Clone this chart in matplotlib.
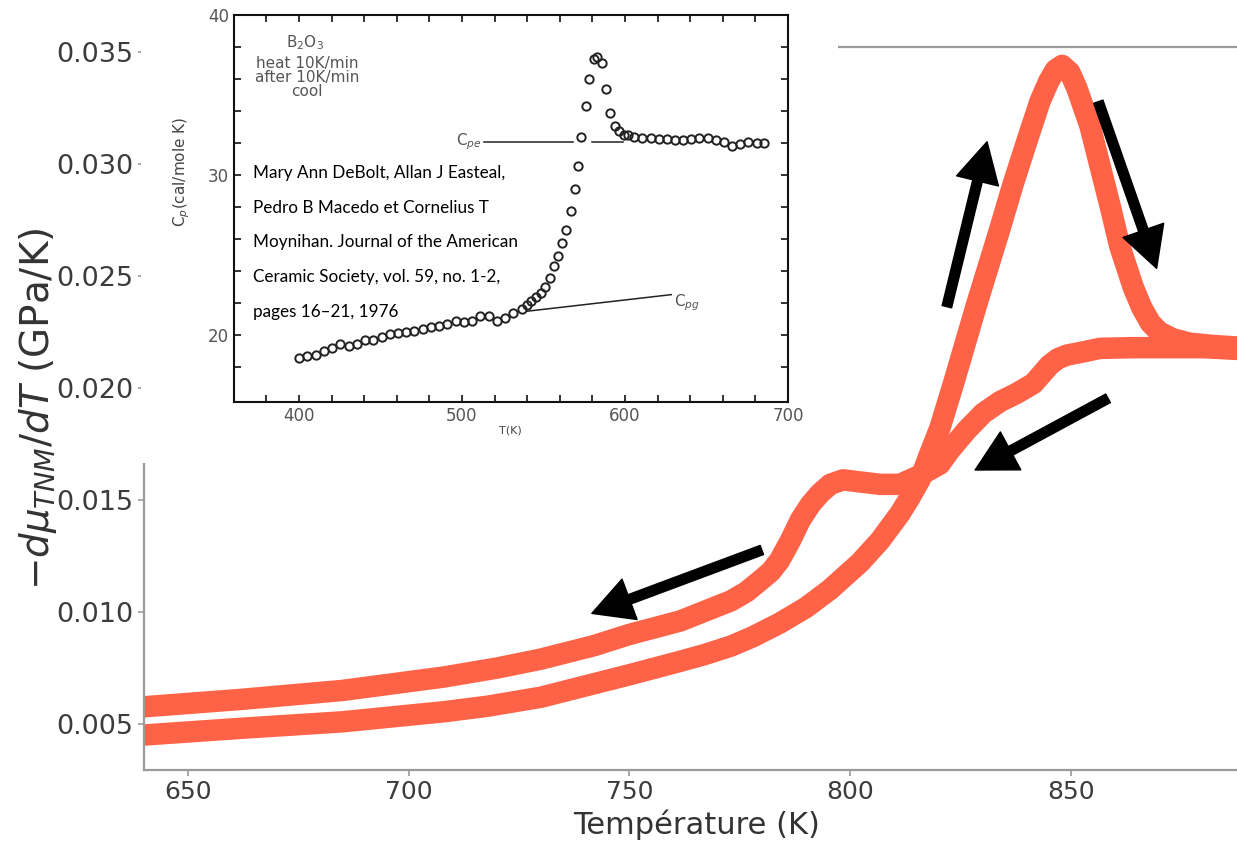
import matplotlib
matplotlib.use("Agg")
import matplotlib.pyplot as plt
from matplotlib.patches import Rectangle

# heating scan (the branch with the overshoot peak)
heat_T = [640, 662, 685, 708, 718, 730, 740, 750, 761.5, 767, 773, 778, 784, 790,
          795.4, 802.2, 806.8, 811.3, 813.5, 815.8, 818.1, 820.3, 823.4, 828.6, 833.9,
          836.9, 840, 843, 845, 846.5, 848, 849.7, 851.3, 854.3, 856.6, 858.9, 861.1,
          864.1, 866, 868, 870, 873, 876.9, 882, 890]
heat_v = [0.00451, 0.00481, 0.0051, 0.00555, 0.0058, 0.0062, 0.0067, 0.0072, 0.0078,
          0.0081, 0.00848, 0.0089, 0.0095, 0.0102, 0.0110, 0.0122, 0.0132, 0.0144,
          0.0151, 0.0159, 0.0171, 0.0182, 0.0202, 0.0237, 0.0271, 0.0291, 0.0310,
          0.0328, 0.0337, 0.0342, 0.0344, 0.0341, 0.0334, 0.0317, 0.0299, 0.0281,
          0.0263, 0.0245, 0.0236, 0.0229, 0.0225, 0.0222, 0.0220, 0.0219, 0.0218]

# cooling scan
cool_T = [640, 662, 685, 708, 720, 730, 742, 750, 761.5, 773, 776.5, 779.6, 782, 784,
          786.5, 788.7, 791, 793.2, 795.5, 798.4, 802.5, 806.8, 811.3, 815.8, 820.3,
          822.6, 826.4, 830.1, 833.9, 837.7, 841.5, 845.2, 847, 849.1, 852.5, 856.6,
          864, 872, 880, 890]
cool_v = [0.00577, 0.0061, 0.0065, 0.0071, 0.0075, 0.0079, 0.0085, 0.0090, 0.0096,
          0.0105, 0.0109, 0.0114, 0.0118, 0.0123, 0.0132, 0.0141, 0.0148, 0.0153,
          0.0157, 0.0159, 0.0158, 0.0157, 0.0157, 0.0161, 0.0166, 0.01723, 0.01812,
          0.01887, 0.01939, 0.01976, 0.0202, 0.02103, 0.0213, 0.02147, 0.0216,
          0.02177, 0.0218, 0.0218, 0.0218, 0.0217]

# inset: DeBolt et al. 1976, B2O3 Cp on heating
ref_T = [400.0, 405.2, 410.2, 415.2, 420.5, 425.5, 430.7, 435.7, 440.7, 445.7, 450.7,
         455.7, 460.7, 465.9, 470.9, 476.1, 480.9, 485.9, 491.1, 496.1, 501.1, 506.1,
         511.1, 516.4, 521.6, 526.6, 531.6, 536.6, 539.8, 542.5, 545.5, 548.4, 551.1,
         553.9, 556.6, 559.1, 561.6, 564.1, 566.6, 569.1, 571.1, 573.0, 576.4, 578.2,
         580.7, 583.0, 586.1, 588.4, 590.9, 593.9, 596.6, 599.3, 601.8, 605.7, 610.7,
         615.7, 620.7, 625.7, 630.7, 635.7, 640.7, 645.7, 650.7, 655.7, 660.7, 665.7,
         670.7, 675.7, 680.7, 685.2]
ref_cp = [18.54, 18.69, 18.75, 18.96, 19.17, 19.44, 19.27, 19.44, 19.65, 19.69, 19.83,
          20.04, 20.10, 20.15, 20.21, 20.35, 20.46, 20.56, 20.69, 20.83, 20.77, 20.83,
          21.15, 21.15, 20.83, 21.04, 21.35, 21.60, 21.88, 22.08, 22.35, 22.60, 22.98,
          23.54, 24.27, 24.94, 25.73, 26.56, 27.71, 29.10, 30.58, 32.38, 34.33, 35.98,
          37.23, 37.40, 37.02, 35.35, 33.85, 33.06, 32.71, 32.50, 32.46, 32.35, 32.33,
          32.29, 32.23, 32.23, 32.19, 32.19, 32.23, 32.33, 32.29, 32.19, 32.08, 31.81,
          31.94, 32.04, 31.98, 31.98]
cpe_T = [[513.6, 568.2], [579.5, 598.9]]
cpe_level = 32.08
cpg_T = [539.8, 628.4]
cpg_cp = [21.46, 22.5]

citation = ["Mary Ann DeBolt, Allan J Easteal,",
            "Pedro B Macedo et Cornelius T",
            "Moynihan. Journal of the American",
            "Ceramic Society, vol. 59, no. 1-2,",
            "pages 16\u201321, 1976"]

# (tail, head) pairs in main-axes data units
arrows = [((821.9, 0.02363), (831.0, 0.03099)),
          ((856.2, 0.03278), (869.4, 0.02534)),
          ((858.4, 0.01954), (828.3, 0.01634)),
          ((780.0, 0.01277), (741.5, 0.00994))]

W, H = 1237, 844
fig = plt.figure(figsize=(W / 100, H / 100), dpi=100)
fig.patch.set_facecolor('white')

# main axes, right edge runs past the picture
ax = fig.add_axes([143.6 / W, 74 / H, 1104 / W, 723 / H])
ax.set_zorder(0)
for T, v in [(heat_T, heat_v), (cool_T, cool_v)]:
    ax.plot(T, v, color='tomato', lw=15.5, solid_capstyle='round',
            solid_joinstyle='round')
ax.set_xlim(640, 890)
ax.set_ylim(0.00295, 0.03522)
ax.set_xticks([650, 700, 750, 800, 850])
ax.set_yticks([0.005, 0.010, 0.015, 0.020, 0.025, 0.030, 0.035])
ax.yaxis.set_major_formatter(matplotlib.ticker.FormatStrFormatter('%.3f'))
for s in ax.spines.values():
    s.set_color('#9a9a9a')
    s.set_linewidth(1.6)
ax.tick_params(colors='#9a9a9a', length=4, width=1.2, labelcolor='#3c3c3c')
ax.tick_params(axis='y', labelsize=19.5)
ax.tick_params(axis='x', labelsize=18)
ax.set_xlabel('Température (K)', fontsize=22, color='#333333')
ax.set_ylabel(r'$-d\mu_{TNM}/dT$ (GPa/K)', fontsize=28, color='#333333')
ax.xaxis.set_label_coords(0.501, -0.055)
ax.yaxis.set_label_coords(-0.077, 0.5)

for tail, head in arrows:
    ax.annotate('', xy=head, xytext=tail,
                arrowprops=dict(facecolor='black', edgecolor='black', width=7,
                                headwidth=31, headlength=29, shrink=0),
                annotation_clip=False)

# pasted scan covers the top-left of the main frame
fig.patches.append(Rectangle((141 / W, 1 - 463 / H), 697 / W, 463 / H,
                             transform=fig.transFigure, facecolor='white',
                             edgecolor='none', zorder=1))

# inset
ai = fig.add_axes([233.7 / W, 1 - 401.7 / H, 554.3 / W, 386.7 / H])
ai.set_zorder(2)
ai.set_facecolor('white')
ai.plot(ref_T, ref_cp, 'o', mfc='none', mec='#222222', ms=6, mew=1.4)
for seg in cpe_T:
    ai.plot(seg, [cpe_level, cpe_level], color='#222222', lw=1.1)
ai.plot(cpg_T, cpg_cp, color='#222222', lw=1.1)
ai.text(512, cpe_level, r'C$_{pe}$', ha='right', va='center', fontsize=11,
        color='#555555')
ai.text(630, 22.0, r'C$_{pg}$', ha='left', va='center', fontsize=11,
        color='#555555')
ai.text(404, 38.3, r'B$_2$O$_3$', ha='center', va='center', fontsize=11,
        color='#555555')
ai.text(405, 36.1, 'heat 10K/min\nafter 10K/min\ncool', ha='center',
        va='center', fontsize=11, color='#555555', linespacing=0.9)
ai.set_xlim(360, 700)
ai.set_ylim(15.8, 40)
ai.set_xticks([400, 500, 600, 700])
ai.set_xticks(range(380, 700, 20), minor=True)
ai.set_yticks([20, 30, 40])
ai.set_yticks(range(18, 40, 2), minor=True)
for s in ai.spines.values():
    s.set_color('#111111')
    s.set_linewidth(1.5)
ai.tick_params(which='both', direction='in', top=True, right=True, length=5,
               width=1.2, color='#111111', labelcolor='#555555', labelsize=12)
ai.set_xlabel('T(K)', fontsize=8, color='#444444', labelpad=1)
ai.set_ylabel(r'C$_p$(cal/mole K)', fontsize=11, color='#444444')
ai.yaxis.set_label_coords(-0.075, 0.594)

for i, line in enumerate(citation):
    fig.text(253 / W, 1 - (173 + 34.7 * i) / H, line, fontsize=12.3,
             family=['Lato', 'DejaVu Sans'], color='black', va='center',
             zorder=3)

fig.savefig('out.png', dpi=100)
